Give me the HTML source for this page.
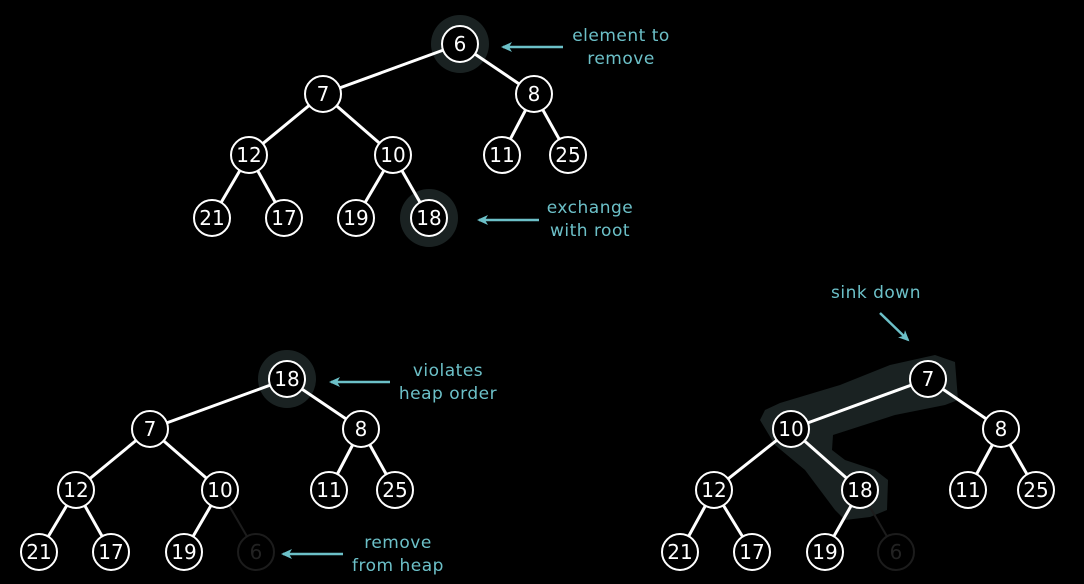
<!DOCTYPE html>
<html><head><style>
html,body{margin:0;padding:0;background:#000;}
svg{display:block;}
text{font-family:"DejaVu Sans","Liberation Sans",sans-serif;}
.n{fill:#000;stroke:#fff;stroke-width:2;}
.d{fill:#000;stroke:#1c1c1c;stroke-width:2;}
.t{fill:#fff;font-size:20px;text-anchor:middle;}
.td{fill:#222;font-size:20px;text-anchor:middle;}
.e{stroke:#fff;stroke-width:3;}
.ed{stroke:#1c1c1c;stroke-width:2;}
.h{fill:#1a2222;}
.l{fill:#6cc0c8;font-size:17px;text-anchor:middle;letter-spacing:0.5px;}
.a{stroke:#6cc0c8;stroke-width:2.5;}
</style></head><body>
<svg width="1084" height="584" viewBox="0 0 1084 584">
<defs><marker id="ar" markerWidth="12" markerHeight="12" refX="9" refY="5" orient="auto" markerUnits="userSpaceOnUse"><path d="M0,0 L11,5 L0,10 L3,5 Z" fill="#6cc0c8"/></marker></defs>
<circle class="h" cx="460" cy="44" r="29"/>
<circle class="h" cx="429" cy="218" r="29"/>
<circle class="h" cx="287" cy="379" r="29"/>
<path class="h" d="M935,355 L955,362 L958,400 L945,405 L920,410 L895,415 L833,435 L832,450 L845,460 L875,470 L888,480 L887,510 L870,517 L845,520 L835,510 L805,470 L775,445 L760,420 L765,410 L780,403 L840,385 L890,365 Z"/>
<line class="e" x1="460" y1="44" x2="323" y2="94"/><line class="e" x1="460" y1="44" x2="534" y2="94"/>
<line class="e" x1="323" y1="94" x2="249" y2="155"/><line class="e" x1="323" y1="94" x2="393" y2="155"/>
<line class="e" x1="534" y1="94" x2="502" y2="155"/><line class="e" x1="534" y1="94" x2="568" y2="155"/>
<line class="e" x1="249" y1="155" x2="212" y2="218"/><line class="e" x1="249" y1="155" x2="284" y2="218"/>
<line class="e" x1="393" y1="155" x2="356" y2="218"/><line class="e" x1="393" y1="155" x2="429" y2="218"/>
<line class="e" x1="287" y1="379" x2="150" y2="429"/><line class="e" x1="287" y1="379" x2="361" y2="429"/>
<line class="e" x1="150" y1="429" x2="76" y2="490"/><line class="e" x1="150" y1="429" x2="220" y2="490"/>
<line class="e" x1="361" y1="429" x2="329" y2="490"/><line class="e" x1="361" y1="429" x2="395" y2="490"/>
<line class="e" x1="76" y1="490" x2="39" y2="552"/><line class="e" x1="76" y1="490" x2="111" y2="552"/>
<line class="e" x1="220" y1="490" x2="184" y2="552"/><line class="ed" x1="220" y1="490" x2="256" y2="552"/>
<line class="e" x1="928" y1="379" x2="791" y2="429"/><line class="e" x1="928" y1="379" x2="1001" y2="429"/>
<line class="e" x1="791" y1="429" x2="714" y2="490"/><line class="e" x1="791" y1="429" x2="860" y2="490"/>
<line class="e" x1="1001" y1="429" x2="968" y2="490"/><line class="e" x1="1001" y1="429" x2="1036" y2="490"/>
<line class="e" x1="714" y1="490" x2="680" y2="552"/><line class="e" x1="714" y1="490" x2="752" y2="552"/>
<line class="e" x1="860" y1="490" x2="825" y2="552"/><line class="ed" x1="860" y1="490" x2="896" y2="552"/>
<g>
<circle class="n" cx="460" cy="44" r="18"/><text class="t" x="460" y="51">6</text>
<circle class="n" cx="323" cy="94" r="18"/><text class="t" x="323" y="101">7</text>
<circle class="n" cx="534" cy="94" r="18"/><text class="t" x="534" y="101">8</text>
<circle class="n" cx="249" cy="155" r="18"/><text class="t" x="249" y="162">12</text>
<circle class="n" cx="393" cy="155" r="18"/><text class="t" x="393" y="162">10</text>
<circle class="n" cx="502" cy="155" r="18"/><text class="t" x="502" y="162">11</text>
<circle class="n" cx="568" cy="155" r="18"/><text class="t" x="568" y="162">25</text>
<circle class="n" cx="212" cy="218" r="18"/><text class="t" x="212" y="225">21</text>
<circle class="n" cx="284" cy="218" r="18"/><text class="t" x="284" y="225">17</text>
<circle class="n" cx="356" cy="218" r="18"/><text class="t" x="356" y="225">19</text>
<circle class="n" cx="429" cy="218" r="18"/><text class="t" x="429" y="225">18</text>
</g>
<g>
<circle class="n" cx="287" cy="379" r="18"/><text class="t" x="287" y="386">18</text>
<circle class="n" cx="150" cy="429" r="18"/><text class="t" x="150" y="436">7</text>
<circle class="n" cx="361" cy="429" r="18"/><text class="t" x="361" y="436">8</text>
<circle class="n" cx="76" cy="490" r="18"/><text class="t" x="76" y="497">12</text>
<circle class="n" cx="220" cy="490" r="18"/><text class="t" x="220" y="497">10</text>
<circle class="n" cx="329" cy="490" r="18"/><text class="t" x="329" y="497">11</text>
<circle class="n" cx="395" cy="490" r="18"/><text class="t" x="395" y="497">25</text>
<circle class="n" cx="39" cy="552" r="18"/><text class="t" x="39" y="559">21</text>
<circle class="n" cx="111" cy="552" r="18"/><text class="t" x="111" y="559">17</text>
<circle class="n" cx="184" cy="552" r="18"/><text class="t" x="184" y="559">19</text>
<circle class="d" cx="256" cy="552" r="18"/><text class="td" x="256" y="559">6</text>
</g>
<g>
<circle class="n" cx="928" cy="379" r="18"/><text class="t" x="928" y="386">7</text>
<circle class="n" cx="791" cy="429" r="18"/><text class="t" x="791" y="436">10</text>
<circle class="n" cx="1001" cy="429" r="18"/><text class="t" x="1001" y="436">8</text>
<circle class="n" cx="714" cy="490" r="18"/><text class="t" x="714" y="497">12</text>
<circle class="n" cx="860" cy="490" r="18"/><text class="t" x="860" y="497">18</text>
<circle class="n" cx="968" cy="490" r="18"/><text class="t" x="968" y="497">11</text>
<circle class="n" cx="1036" cy="490" r="18"/><text class="t" x="1036" y="497">25</text>
<circle class="n" cx="680" cy="552" r="18"/><text class="t" x="680" y="559">21</text>
<circle class="n" cx="752" cy="552" r="18"/><text class="t" x="752" y="559">17</text>
<circle class="n" cx="825" cy="552" r="18"/><text class="t" x="825" y="559">19</text>
<circle class="d" cx="896" cy="552" r="18"/><text class="td" x="896" y="559">6</text>
</g>
<line class="a" x1="563" y1="47" x2="503" y2="47" marker-end="url(#ar)"/>
<text class="l" x="621" y="41">element to</text><text class="l" x="621" y="64">remove</text>
<line class="a" x1="539" y1="220" x2="479" y2="220" marker-end="url(#ar)"/>
<text class="l" x="590" y="213">exchange</text><text class="l" x="590" y="236">with root</text>
<line class="a" x1="390" y1="382" x2="331" y2="382" marker-end="url(#ar)"/>
<text class="l" x="448" y="376">violates</text><text class="l" x="448" y="399">heap order</text>
<line class="a" x1="343" y1="554" x2="283" y2="554" marker-end="url(#ar)"/>
<text class="l" x="398" y="548">remove</text><text class="l" x="398" y="571">from heap</text>
<line class="a" x1="880" y1="313" x2="908" y2="340" marker-end="url(#ar)"/>
<text class="l" x="876" y="298">sink down</text>
</svg>
</body></html>
